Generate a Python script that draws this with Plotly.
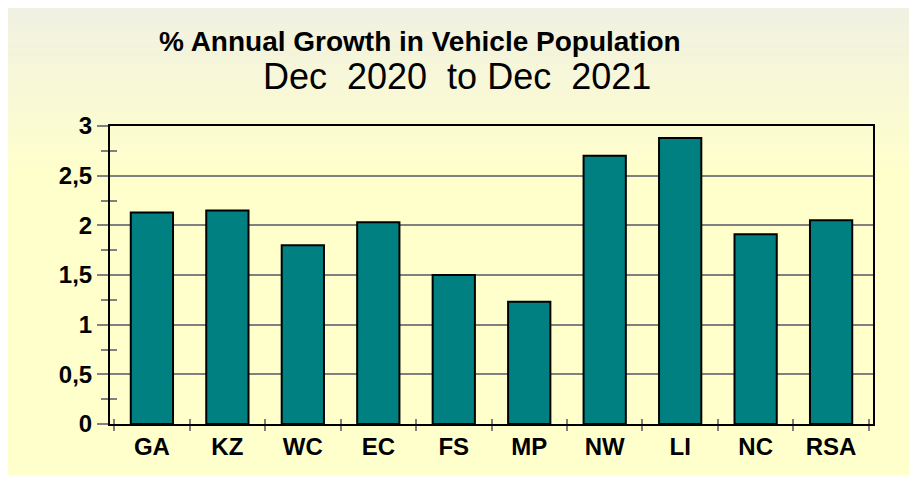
import plotly.graph_objects as go

categories = ["GA", "KZ", "WC", "EC", "FS", "MP", "NW", "LI", "NC", "RSA"]
growth = [2.13, 2.15, 1.80, 2.03, 1.50, 1.23, 2.70, 2.88, 1.91, 2.05]
y_ticks = [0, 0.5, 1, 1.5, 2, 2.5, 3]
title_text = "% Annual Growth in Vehicle Population"
subtitle_text = "Dec  2020  to Dec  2021"

OFF = 8  # page body margin
W, H = 917 - 2 * OFF, 483 - 2 * OFF
PL, PR, PT, PB = 110, 873, 126, 424  # plot area in page pixels
L, R, T, B = PL - OFF, W - (PR - OFF), PT - OFF, H - (PB - OFF)
plot_w = W - L - R
plot_h = H - T - B


def px(x):
    return (x - PL) / plot_w


def py(y):
    return (PB - y) / plot_h


FONT = "Liberation Sans, Arial, sans-serif"

fig = go.Figure()
fig.add_trace(go.Bar(
    x=categories, y=growth,
    marker=dict(color="#008080", line=dict(color="#000000", width=2)),
    hoverinfo="x+y",
))
# invisible helper trace to activate overlay axes (crossing tick marks)
fig.add_trace(go.Scatter(x=categories, y=growth, xaxis="x2", yaxis="y2", mode="markers",
                         marker=dict(opacity=0), hoverinfo="skip", showlegend=False))

# background gradient (top greyish -> bottom light yellow)
shapes = []
n = 60
top_c = (0xF0, 0xF0, 0xE4)
bot_c = (0xFF, 0xFF, 0xCC)
for i in range(n):
    p0 = i * 483 / n
    p1 = (i + 1) * 483 / n
    f = min(1.0, (p0 / 483) / 0.35)
    c = tuple(int(round(top_c[k] + (bot_c[k] - top_c[k]) * f)) for k in range(3))
    shapes.append(dict(
        type="rect", xref="paper", yref="paper", layer="below",
        x0=-0.5, x1=1.5, y0=py(p1), y1=py(p0),
        fillcolor="rgb(%d,%d,%d)" % c, line=dict(width=0),
    ))

fig.update_layout(
    width=W, height=H,
    margin=dict(l=L, r=R, t=T, b=B),
    paper_bgcolor="#ffffcc",
    plot_bgcolor="rgba(0,0,0,0)",
    separators=",.",
    bargap=0.44,
    showlegend=False,
    shapes=shapes,
    font=dict(family=FONT, color="#000000"),
    annotations=[
        dict(text=title_text, xref="paper", yref="paper",
             x=px(420), y=py(42), xanchor="center", yanchor="middle",
             showarrow=False, font=dict(size=28, color="#000000", weight="bold")),
        dict(text=subtitle_text, xref="paper", yref="paper",
             x=px(457), y=py(77), xanchor="center", yanchor="middle",
             showarrow=False, font=dict(size=36, color="#000000")),
    ],
    xaxis=dict(
        type="category", tickson="boundaries", ticks="outside", ticklen=5, tickwidth=2,
        tickcolor="#808080", showline=True, linecolor="#000000", linewidth=2, mirror=True,
        tickfont=dict(size=24, family=FONT, weight="bold", color="#000000"),
        showgrid=False,
    ),
    yaxis=dict(
        range=[0, 3], tickvals=y_ticks,
        ticks="outside", ticklen=11, tickwidth=2, tickcolor="#808080",
        showline=True, linecolor="#000000", linewidth=2, mirror=True,
        showgrid=True, gridcolor="#808080", gridwidth=2,
        zeroline=False,
        minor=dict(dtick=0.25, ticks="outside", ticklen=7, tickwidth=2, tickcolor="#808080", showgrid=False),
        tickfont=dict(size=24, family=FONT, weight="bold", color="#000000"),
    ),
    xaxis2=dict(overlaying="x", matches="x", type="category", tickson="boundaries",
                ticks="inside", ticklen=5, tickwidth=2, tickcolor="#808080",
                showticklabels=False, showline=False, showgrid=False),
    yaxis2=dict(overlaying="y", matches="y", ticks="", showticklabels=False,
                showline=False, showgrid=False, zeroline=False,
                minor=dict(dtick=0.25, ticks="inside", ticklen=7, tickwidth=2,
                           tickcolor="#808080", showgrid=False)),
)

fig.write_html("out.html")
